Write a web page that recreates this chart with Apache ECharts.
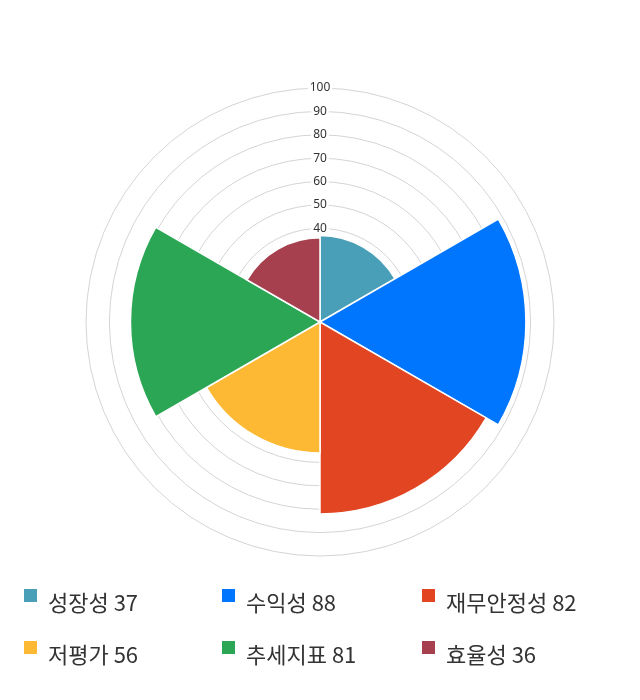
<!DOCTYPE html>
<html>
<head>
<meta charset="utf-8">
<script src="https://cdn.jsdelivr.net/npm/echarts@6/dist/echarts.min.js"></script>
<style>html,body{margin:0;padding:0;background:#fff}#c{width:640px;height:700px}</style>
</head>
<body>
<div id="c"></div>
<script>
var categories = ['성장성', '수익성', '재무안정성', '저평가', '추세지표', '효율성'];
var values = [37, 88, 82, 56, 81, 36];
var colors = ['#4a9fb8', '#0076fe', '#e24522', '#fdb933', '#2ba655', '#a6404f'];
var radiusTicks = [0, 100, 10];

var chart = echarts.init(document.getElementById('c'));
var series = categories.map(function (name, i) {
  return {
    type: 'bar',
    coordinateSystem: 'polar',
    name: name,
    barGap: '-100%',
    barCategoryGap: '0%',
    itemStyle: { color: colors[i], borderColor: '#fff', borderWidth: 1.5 },
    data: categories.map(function (c, j) { return j === i ? values[i] : '-'; })
  };
});
var legendPos = [[22, 587], [220, 587], [420, 587], [22, 639], [220, 639], [420, 639]];
var legends = categories.map(function (name, i) {
  return {
    left: legendPos[i][0], top: legendPos[i][1],
    padding: 0,
    data: [{ name: name, icon: 'rect' }],
    itemWidth: 15, itemHeight: 15,
    selectedMode: false,
    formatter: function (n) { return '{t|' + n + ' ' + values[categories.indexOf(n)] + '}'; },
    textStyle: {
      fontFamily: 'Noto Sans CJK KR', fontSize: 22, color: '#333',
      rich: { t: { fontFamily: 'Noto Sans CJK KR', fontSize: 22, color: '#333', padding: [14, 0, 0, 5] } }
    }
  };
});
chart.setOption({
  animation: false,
  color: colors,
  polar: { center: [320, 322], radius: 234 },
  angleAxis: {
    type: 'category', data: categories, startAngle: 90, clockwise: true,
    axisLine: { show: false }, axisTick: { show: false }, axisLabel: { show: false }, splitLine: { show: false }
  },
  radiusAxis: {
    min: radiusTicks[0], max: radiusTicks[1], interval: radiusTicks[2],
    axisLine: { show: false }, axisTick: { show: false },
    splitLine: { show: true, lineStyle: { color: '#d4d4d4', width: 1 } },
    axisLabel: {
      margin: 0, align: 'center', verticalAlign: 'middle',
      fontFamily: 'Noto Sans', fontSize: 12, color: '#333',
      backgroundColor: '#fff', padding: [0, 2],
      formatter: function (v) { return v >= 40 ? String(v) : ''; }
    }
  },
  legend: legends,
  series: series
});
</script>
</body>
</html>
